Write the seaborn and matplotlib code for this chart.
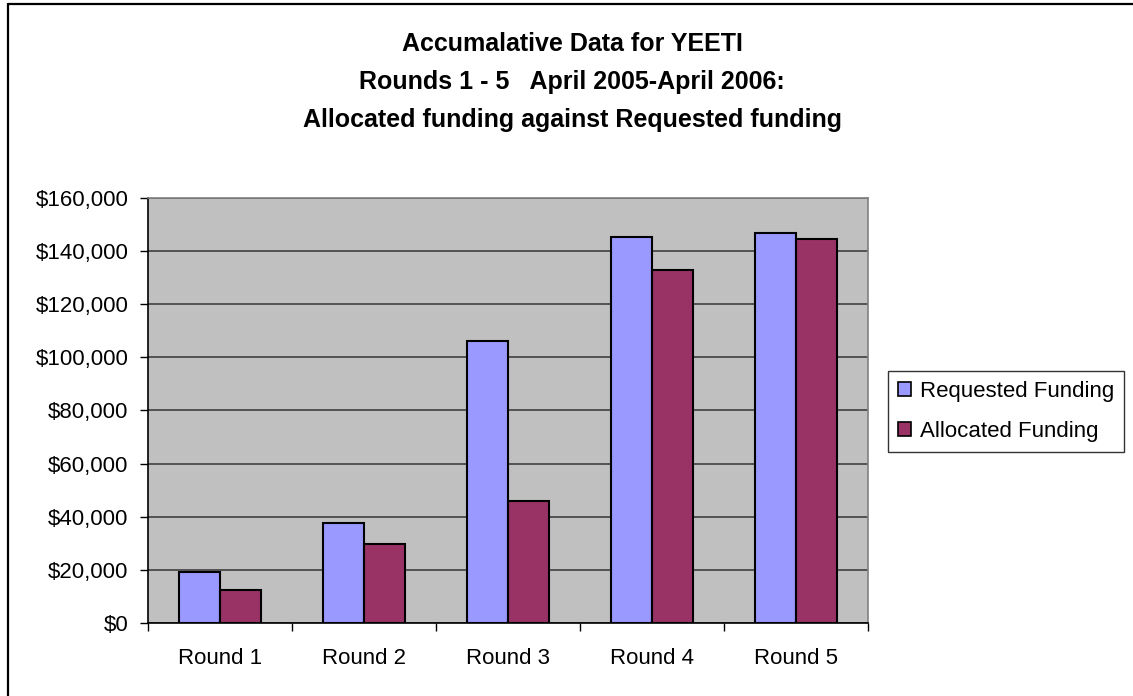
import matplotlib
matplotlib.use("Agg")
import matplotlib.pyplot as plt
import seaborn as sns
import pandas as pd
from matplotlib.patches import Patch
from matplotlib.lines import Line2D
from matplotlib.ticker import FuncFormatter, FixedLocator

rounds = ["Round 1", "Round 2", "Round 3", "Round 4", "Round 5"]
requested = [19400, 37600, 106000, 145200, 146600]
allocated = [12400, 30000, 46000, 132700, 144500]
series_names = ["Requested Funding", "Allocated Funding"]
colors = ["#9999FF", "#993366"]
title_lines = ["Accumalative Data for YEETI",
               "Rounds 1 - 5   April 2005-April 2006:",
               "Allocated funding against Requested funding"]

df = pd.DataFrame({
    "Round": rounds * 2,
    "Funding": requested + allocated,
    "Series": [series_names[0]] * len(rounds) + [series_names[1]] * len(rounds),
})

sns.set_style("white")
plt.rcParams["font.family"] = ["Liberation Sans", "DejaVu Sans"]
plt.rcParams["text.color"] = "black"
plt.rcParams["xtick.color"] = "black"
plt.rcParams["ytick.color"] = "black"

fig = plt.figure(figsize=(11.33, 6.96), dpi=100)
W, H = 1133, 696
left, right, top, bottom = 147.7, 867.7, 197.7, 623.3
ax = fig.add_axes([left / W, 1 - bottom / H, (right - left) / W, (bottom - top) / H])

sns.barplot(data=df, x="Round", y="Funding", hue="Series", palette=colors,
            width=0.57, edgecolor="black", linewidth=1.5, ax=ax, legend=False,
            saturation=1)

ax.set_facecolor("#C0C0C0")
ax.set_ylim(0, 160000)
ax.set_xlim(-0.5, 4.5)
ax.set_xlabel("")
ax.set_ylabel("")
ax.yaxis.set_major_locator(FixedLocator(range(0, 160001, 20000)))
ax.yaxis.set_major_formatter(FuncFormatter(lambda v, p: f"${int(v):,}"))
ax.grid(axis="y", color="#404040", linewidth=1.2)
ax.set_axisbelow(True)

# x ticks at category boundaries, labels at centres
ax.set_xticks([i - 0.5 for i in range(len(rounds) + 1)])
ax.set_xticklabels([])
ax.set_xticks(range(len(rounds)), minor=True)
ax.set_xticklabels(rounds, minor=True)
ax.tick_params(axis="x", which="major", length=6, width=1, color="black", direction="out", bottom=True)
ax.tick_params(axis="x", which="minor", length=0, pad=18, labelsize=16, labelcolor="black")
ax.tick_params(axis="y", length=6, width=1, color="black", direction="out", left=True, pad=8,
               labelsize=16, labelcolor="black")

for s in ["left", "bottom"]:
    ax.spines[s].set_color("black")
    ax.spines[s].set_linewidth(1.2)
for s in ["top", "right"]:
    ax.spines[s].set_visible(True)
    ax.spines[s].set_color("#808080")
    ax.spines[s].set_linewidth(1.2)

handles = [Patch(facecolor=c, edgecolor="black", linewidth=1.2) for c in colors]
leg = fig.legend(handles, series_names, loc="upper left",
                 bbox_to_anchor=(888 / W, 1 - 371 / H), fontsize=16,
                 frameon=True, fancybox=False, edgecolor="black",
                 handlelength=0.6, handleheight=0.6, handletextpad=0.4,
                 borderpad=0.45, labelspacing=0.85, borderaxespad=0)
leg.get_frame().set_linewidth(1.0)
for t in leg.get_texts():
    t.set_color("black")

fig.text(0.505, 1 - 82 / H, "\n".join(title_lines), ha="center", va="center",
         fontsize=18, fontweight="bold", linespacing=1.72, color="black")

# figure frame (left and top edges visible)
fig.add_artist(Line2D([8 / W, 8 / W], [0, 1 - 4 / H], color="black", linewidth=1.6, transform=fig.transFigure))
fig.add_artist(Line2D([8 / W, 1], [1 - 4 / H, 1 - 4 / H], color="black", linewidth=1.6, transform=fig.transFigure))

fig.savefig("out.png", dpi=100, facecolor="white")
